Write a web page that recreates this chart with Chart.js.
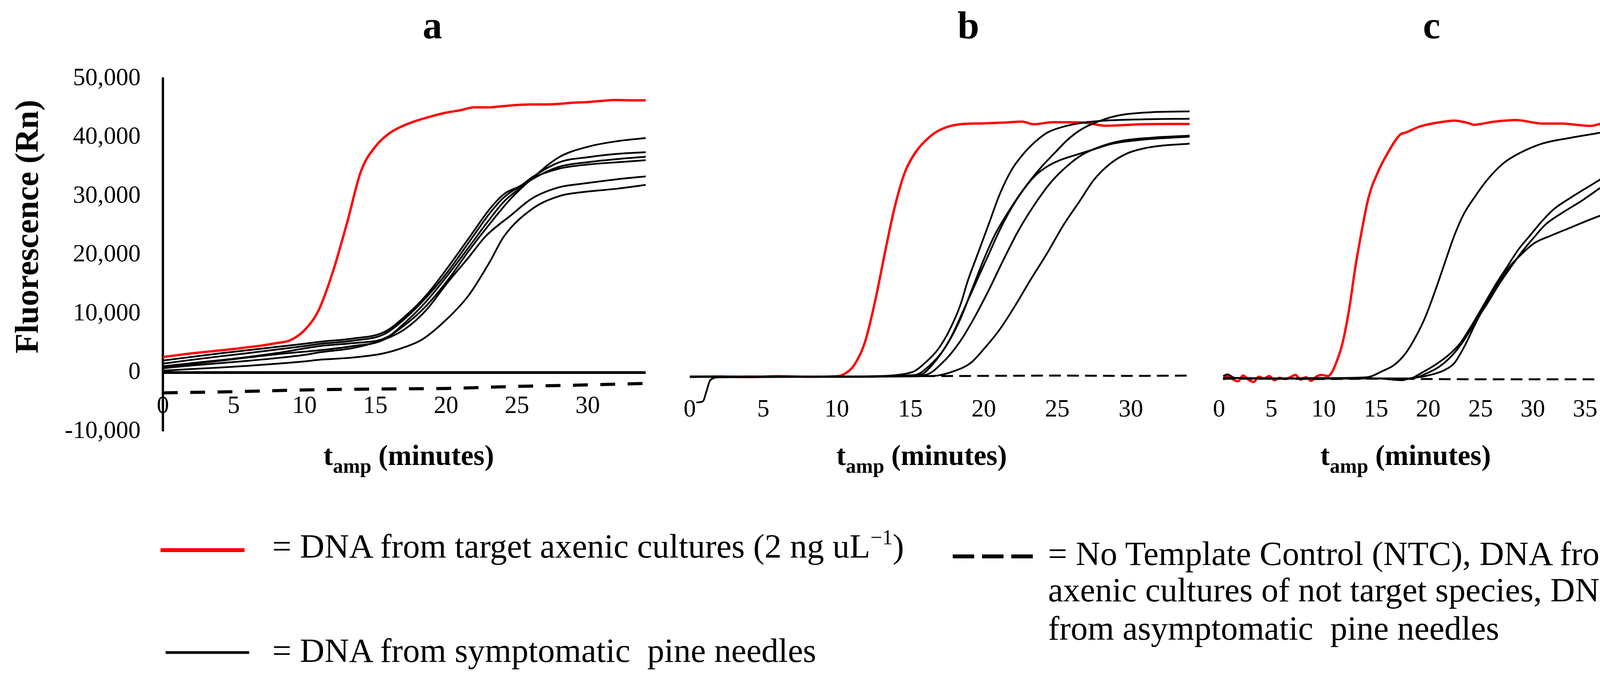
<!DOCTYPE html>
<html><head><meta charset="utf-8">
<script src="https://cdn.jsdelivr.net/npm/chart.js@4.4.1/dist/chart.umd.min.js"></script>
<style>
html,body{margin:0;padding:0;background:#fff;}
#page{position:relative;width:4224px;height:1748px;overflow:hidden;background:#fff;font-family:"Liberation Serif","Times New Roman",serif;color:#000;}
canvas{position:absolute;top:0;}
.t{position:absolute;white-space:pre;line-height:1;}
.b{font-weight:bold;}
.ttl{font-size:100px;top:15px;transform:translateX(-50%);}
.xt{font-size:73px;top:1129px;}
.sub{font-size:52px;vertical-align:-20px;line-height:0;}
.lg{font-size:87px;}
</style></head><body><div id="page">
<canvas id="ca" width="1720" height="1204" style="left:0px;width:1720px;height:1204px"></canvas>
<canvas id="cb" width="1380" height="1140" style="left:1700px;width:1380px;height:1140px"></canvas>
<canvas id="cc" width="1164" height="1140" style="left:3060px;width:1164px;height:1140px"></canvas>

<div class="t b ttl" style="left:1107px">a</div>
<div class="t b ttl" style="left:2479px">b</div>
<div class="t b ttl" style="left:3665px">c</div>

<div class="t b" style="left:69px;top:580px;font-size:84px;transform:translate(-50%,-50%) rotate(-90deg);">Fluorescence (Rn)</div>

<div class="t b xt" style="left:828px">t<span class="sub">amp</span> (minutes)</div>
<div class="t b xt" style="left:2141px">t<span class="sub">amp</span> (minutes)</div>
<div class="t b xt" style="left:3380px">t<span class="sub">amp</span> (minutes)</div>

<svg style="position:absolute;left:0;top:0" width="4224" height="1748">
  <line x1="411" y1="1408" x2="626" y2="1408" stroke="#ff0000" stroke-width="10"/>
  <line x1="424" y1="1670" x2="638" y2="1670" stroke="#000" stroke-width="7"/>
  <line x1="2439" y1="1424" x2="2652" y2="1424" stroke="#000" stroke-width="10" stroke-dasharray="55 20"/>
</svg>

<div class="t lg" style="left:697px;top:1354px">= DNA from target axenic cultures (2 ng uL<span style="font-size:54px;vertical-align:34px;line-height:0">−1</span>)</div>
<div class="t lg" style="left:697px;top:1621px">= DNA from symptomatic  pine needles</div>
<div class="t lg" style="left:2683px;top:1373px">= No Template Control (NTC), DNA from</div>
<div class="t lg" style="left:2683px;top:1466px">axenic cultures of not target species, DNA</div>
<div class="t lg" style="left:2683px;top:1564px">from asymptomatic  pine needles</div>
</div>
<script>
// ---------- tick values ----------
const aXTicks = [0, 5, 10, 15, 20, 25, 30];
const aYTicks = [-10000, 0, 10000, 20000, 30000, 40000, 50000];
const bXTicks = [0, 5, 10, 15, 20, 25, 30];
const cXTicks = [0, 5, 10, 15, 20, 25, 30, 35];

// ---------- panel a : [minutes, Rn] ----------
const aRed = [[0,2650],[1,2950],[2,3250],[3,3500],[4,3750],[5,4000],[6,4300],[7,4600],[8,5000],[9,5500],[10,7200],[11,10600],[12,17100],[13,25400],[14,34300],[15,38400],[16,40700],[17,42000],[18,42900],[19,43600],[20,44200],[21,44600],[22,45100],[23,45100],[24,45300],[25,45500],[26,45600],[27,45600],[28,45700],[29,45900],[30,46000],[31,46200],[32,46350],[33,46300],[34.1,46300]];
const aSample1 = [[0,1060],[2,1600],[4,2100],[6,2650],[8,3300],[10,4100],[11.1,4520],[13.4,5000],[15.6,5780],[17.1,8110],[18.6,11340],[20.1,15650],[21.6,20680],[23.1,25340],[24.6,29650],[26.1,33060],[28,36650],[30.1,38450],[32.1,39350],[34.1,39880]];
const aSample2 = [[0,2050],[2,2650],[4,3250],[6,3800],[8,4350],[10,4900],[11.1,5240],[13.4,5780],[15.6,6860],[17.1,9550],[18.6,13140],[20.1,17800],[21.6,22830],[23.1,27860],[24.1,30370],[25.3,31810],[26.1,33240],[28,35760],[30.1,36650],[32.1,37190],[34.1,37480]];
const aSample3 = [[0,1520],[2,2150],[4,2750],[6,3300],[8,3900],[10,4500],[11.1,4880],[13.4,5420],[15.6,6500],[17.1,9190],[18.6,12780],[20.1,17090],[21.6,22110],[23.1,27140],[24.1,29830],[25.3,31810],[26.1,33060],[28,34680],[30.1,35400],[32.1,35760],[34.1,36110]];
const aSample4 = [[0,900],[2,1450],[4,2000],[6,2550],[8,3100],[10,3550],[11.1,3800],[13.4,4500],[15.6,5600],[17.1,8500],[18.6,12100],[20.1,16500],[21.6,21300],[22.8,25200],[24.1,29100],[25.3,31500],[26.1,32900],[28,35000],[30.1,35800],[32.1,36300],[34.1,36700]];
const aSample5 = [[0,730],[2,1200],[4,1600],[6,2000],[8,2450],[10,3000],[11.1,3450],[13.4,4160],[15.6,5600],[17.1,7400],[18.6,10630],[20.1,15290],[21.6,19600],[22.8,23190],[24.6,26780],[26.1,29650],[28,31520],[29.8,32170],[32.1,32880],[34.1,33350]];
const aSample6 = [[0,330],[2,600],[4,850],[6,1150],[8,1500],[10,1900],[11.1,2190],[13.4,2550],[15.6,3270],[17.1,4340],[18.3,5600],[20.1,9190],[21.6,13140],[23.1,18880],[24.1,23190],[26.1,27860],[28,30010],[29.8,30730],[32.1,31270],[34.1,31910]];
const aNTC = [[0,-3450],[5,-3250],[10,-2950],[15,-2800],[20,-2700],[25,-2350],[30,-2100],[34.1,-1850]];

// ---------- panel b ----------
const bRed = [[0,-150],[2,-100],[4,-200],[6,-50],[8,-150],[10,-50],[10.5,300],[11.2,1900],[11.9,5600],[12.6,12600],[13.3,21200],[13.9,28200],[14.6,34300],[15.3,37700],[16.4,40700],[17.3,42000],[18.4,42650],[20,42800],[21.5,42950],[22.6,43100],[23.4,42650],[24.7,43000],[26.7,42950],[28.3,42400],[30.8,42650],[34,42700]];
const bSample1 = [[0,-100],[5,-150],[10,-100],[13.3,0],[14.6,330],[15.3,830],[16.0,2190],[16.9,4550],[17.7,7930],[18.4,11980],[18.9,16040],[19.6,20770],[20.3,25500],[21.1,30900],[21.9,34960],[22.7,37660],[23.5,39690],[24.3,41210],[25.4,42230],[26.7,42900],[28.1,43240],[30.8,43480],[34,43580]];
const bSample2 = [[0,-150],[5,-100],[10,-150],[15.3,150],[16.2,1510],[17.3,4550],[18.4,9620],[19.2,14690],[20,19750],[20.8,24150],[21.6,27530],[22.4,30570],[23.2,33270],[24.0,35640],[24.9,38000],[25.7,40030],[26.7,41890],[28.1,43410],[29.4,44250],[31.4,44690],[34,44830]];
const bSample3 = [[0,-100],[5,-200],[10,-100],[15.6,150],[16.6,2180],[17.7,6240],[18.65,11310],[19.5,16040],[20.3,20430],[21.1,24820],[21.9,28540],[22.7,31580],[23.5,33950],[24.3,35470],[25.1,36480],[26.1,37330],[27.4,38340],[28.75,39350],[30.8,40030],[34,40540]];
const bSample4 = [[0,-200],[5,-100],[10,-150],[15.96,150],[17.3,2520],[18.4,5900],[19.3,9620],[20.3,14350],[21.35,19750],[22.4,24820],[23.5,29220],[24.6,32930],[25.7,35640],[26.7,37500],[28.1,39020],[29.4,39860],[31.4,40370],[34,40710]];
const bSample5 = [[0.45,-4500],[0.9,-4300],[1.15,-2500],[1.4,-700],[2,-250],[5,-200],[10,-150],[16.6,0],[18,830],[19.1,2180],[20,4550],[21.1,7930],[22.15,11980],[23.2,16380],[24.3,20770],[25.4,25500],[26.5,29550],[27.5,33270],[28.6,35970],[29.7,37660],[30.8,38510],[32.1,39020],[34,39350]];
const bNTC = [[0,-150],[5,-100],[10,-150],[15,-50],[20,0],[25,50],[30,0],[34,50]];

// ---------- panel c ----------
const cRed = [[0.4,-300],[0.8,300],[1.3,-200],[1.8,-600],[2.3,400],[2.8,-300],[3.3,-700],[3.8,200],[4.3,-100],[4.8,300],[5.3,-400],[5.8,0],[6.3,-200],[6.8,100],[7.3,500],[7.8,-300],[8.3,100],[8.8,-500],[9.3,200],[9.8,500],[10.4,300],[11.4,3500],[11.9,6600],[12.5,12300],[13.0,18400],[13.6,24500],[14.3,30600],[15.3,35300],[16.0,37700],[17.3,41200],[17.9,41600],[19.2,42600],[21.4,43400],[22.5,43600],[23.8,43200],[24.4,42900],[26.2,43400],[28.4,43700],[30.9,43100],[32.7,43100],[35.5,42700],[37.2,43300],[38.9,42700]];
const cSample1 = [[0.4,300],[0.8,600],[1.5,0],[5,-100],[10,-50],[14.15,100],[15.64,1160],[16.75,2180],[17.86,4210],[18.79,6910],[19.72,10290],[20.65,14680],[21.57,19410],[22.5,24140],[23.43,27860],[24.54,30900],[25.66,33600],[27.14,36300],[28.63,37990],[30.85,39680],[33.64,40700],[36.42,41540],[38.93,42390]];
const cSample2 = [[0.4,0],[5,-100],[10,-50],[15,-100],[17.9,-200],[18.5,0],[19.35,830],[20.65,2180],[21.95,3870],[23.06,5890],[24.17,8930],[25.29,12310],[26.4,15690],[27.51,18730],[28.63,21770],[29.74,24140],[30.85,26500],[31.97,28530],[33.64,30560],[35.5,32590],[37.35,34620],[38.93,36470]];
const cSample3 = [[0.4,0],[5,-150],[10,-100],[15,-100],[18.42,-100],[19.72,660],[21.02,1840],[22.32,3870],[23.43,6400],[24.54,9610],[25.66,12650],[26.77,15860],[27.88,18730],[29.0,21440],[30.11,23800],[31.22,26000],[32.71,27860],[34.57,29890],[36.79,32590],[38.93,34790]];
const cSample4 = [[0.4,0],[5,-100],[10,-150],[15,-100],[17.5,-400],[18.2,-100],[19.72,300],[21.57,1330],[22.5,2520],[23.43,5220],[24.54,9280],[25.66,12990],[26.77,16370],[27.88,19070],[29.0,21100],[30.11,22790],[31.78,24140],[33.64,25490],[35.5,26850],[37.35,28030],[38.93,28770]];
const cNTC = [[0.4,-150],[5,-150],[10,-200],[15,-150],[20,-200],[25,-250],[30,-250],[35,-250],[38.93,-250]];

// ---------- helpers ----------
const pts = arr => arr.map(p => ({x: p[0], y: p[1]}));
const red = (arr, w) => ({data: pts(arr), borderColor: '#ff0000', borderWidth: w});
const blk = (arr, w) => ({data: pts(arr), borderColor: '#000000', borderWidth: w});
const dash = (arr, w, d) => ({data: pts(arr), borderColor: '#000000', borderWidth: w, borderDash: d});
const tickFont = {family: 'Liberation Serif', size: 63};

Chart.defaults.font.family = 'Liberation Serif';

function makeChart(id, datasets, o) {
  const yScale = {
    type: 'linear', position: 'left', min: o.ymin, max: o.ymax, display: o.showY,
    afterBuildTicks: s => { if (o.yTicks) s.ticks = o.yTicks.map(v => ({value: v})); },
    afterFit: s => { if (o.showY) s.width = o.yWidth; },
    ticks: {padding: 57, font: tickFont, color: '#000', callback: v => Number(v).toLocaleString('en-US')},
    grid: {display: o.showY, drawTicks: false,
      color: c => (c.tick && c.tick.value === 0) ? '#000' : 'rgba(0,0,0,0)',
      lineWidth: c => (c.tick && c.tick.value === 0) ? 7 : 0},
    border: {display: o.showY, color: '#000', width: 6}
  };
  return new Chart(document.getElementById(id), {
    type: 'line',
    data: {datasets: datasets},
    options: {
      responsive: false, animation: false, normalized: true,
      layout: {padding: o.pad},
      plugins: {legend: {display: false}, title: {display: false}, tooltip: {enabled: false}},
      elements: {point: {radius: 0, hoverRadius: 0}, line: {cubicInterpolationMode: 'monotone', borderCapStyle: 'butt', borderJoinStyle: 'round'}},
      scales: {
        x: {type: 'linear', position: {y: 0}, min: 0, max: o.xmax,
          afterBuildTicks: s => { s.ticks = o.xTicks.map(v => ({value: v})); },
          grid: {display: false, drawTicks: false}, border: {display: false},
          ticks: {padding: o.xpad, font: tickFont, color: '#000', maxRotation: 0, autoSkip: false}},
        y: yScale
      }
    }
  });
}

makeChart('ca', [
  dash(aNTC, 8, [38, 32]),
  blk(aSample6, 4.5), blk(aSample5, 4.5), blk(aSample4, 4.5), blk(aSample3, 4.5), blk(aSample2, 4.5), blk(aSample1, 4.5),
  red(aRed, 6)
], {pad: {left: 0, top: 201, right: 67, bottom: 100}, xmax: 34.1, ymin: -10000, ymax: 50000,
    showY: true, yWidth: 417, yTicks: aYTicks, xTicks: aXTicks, xpad: 49});

makeChart('cb', [
  blk(bSample5, 4.5), blk(bSample4, 4.5), blk(bSample3, 4.5), blk(bSample2, 4.5), blk(bSample1, 4.5),
  red(bRed, 6),
  dash(bNTC, 5, [30, 16])
], {pad: {left: 57, top: 207, right: 34.4, bottom: 87.4}, xmax: 34, ymin: -6000, ymax: 50000,
    showY: false, xTicks: bXTicks, xpad: 50});

makeChart('cc', [
  dash(cNTC, 5, [30, 16]),
  blk(cSample4, 4.5), blk(cSample3, 4.5), blk(cSample2, 4.5), blk(cSample1, 4.5),
  red(cRed, 6)
], {pad: {left: 33, top: 212, right: 59, bottom: 82.4}, xmax: 39, ymin: -6000, ymax: 50000,
    showY: false, xTicks: cXTicks, xpad: 45});
</script>
</body></html>
